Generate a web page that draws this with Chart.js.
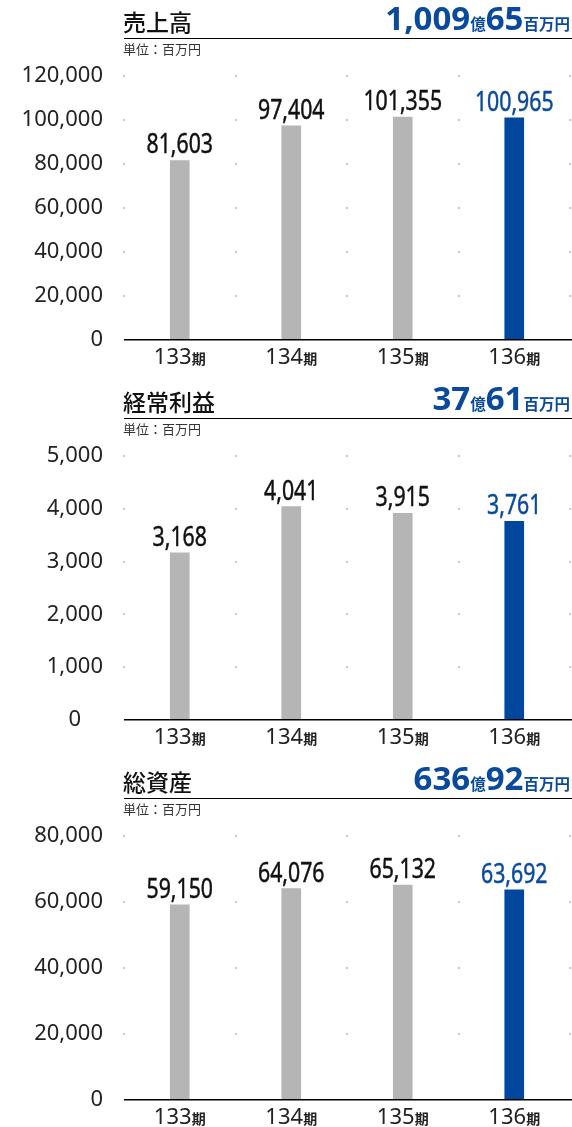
<!DOCTYPE html>
<html>
<head>
<meta charset="utf-8">
<script src="https://cdn.jsdelivr.net/npm/chart.js@4"></script>
<style>
  html, body { margin: 0; padding: 0; overflow: hidden; background: #fff; }
  body { width: 572px; font-family: "Noto Sans CJK JP", "Noto Sans", sans-serif; color: #111; }
  .block { position: relative; width: 572px; height: 380px; }
  .block canvas { position: absolute; left: 0; top: 0; }
  .title { position: absolute; left: 123px; top: 6px; font-size: 23px; font-weight: 500; line-height: 30px; z-index: 2; }
  .rule { position: absolute; left: 124px; right: 0; top: 38px; height: 1px; background: #000; z-index: 2; }
  .unit { position: absolute; left: 123px; top: 41px; font-size: 13px; line-height: 16px; color: #333; z-index: 2; }
  .total { position: absolute; right: 2px; top: 0px; color: #0a4a9c; font-weight: 700; line-height: 36px; white-space: nowrap; z-index: 2; }
  .total .n { font-family: "Noto Sans", sans-serif; font-size: 33px; }
  .total .u { font-size: 15.5px; }
</style>
</head>
<body>

<div class="block">
  <div class="title">売上高</div>
  <div class="total"><span class="n">1,009</span><span class="u">億</span><span class="n">65</span><span class="u">百万円</span></div>
  <div class="rule"></div>
  <div class="unit">単位：百万円</div>
  <canvas id="sales" width="572" height="380"></canvas>
</div>

<div class="block">
  <div class="title">経常利益</div>
  <div class="total"><span class="n">37</span><span class="u">億</span><span class="n">61</span><span class="u">百万円</span></div>
  <div class="rule"></div>
  <div class="unit">単位：百万円</div>
  <canvas id="profit" width="572" height="380"></canvas>
</div>

<div class="block">
  <div class="title">総資産</div>
  <div class="total"><span class="n">636</span><span class="u">億</span><span class="n">92</span><span class="u">百万円</span></div>
  <div class="rule"></div>
  <div class="unit">単位：百万円</div>
  <canvas id="assets" width="572" height="380"></canvas>
</div>

<script>
  // periods on the x axis
  const periods = ['133', '134', '135', '136'];

  // 売上高 (百万円)
  const salesValues = [81603, 97404, 101355, 100965];
  // 経常利益 (百万円)
  const profitValues = [3168, 4041, 3915, 3761];
  // 総資産 (百万円)
  const assetsValues = [59150, 64076, 65132, 63692];

  const GRAY = '#b5b5b5';
  const BLUE = '#00479d';
  const fmt = v => v.toLocaleString('en-US');

  // dots at grid intersections, axis line, value labels and "期" labels
  const decoPlugin = {
    id: 'deco',
    beforeDatasetsDraw(chart) {
      const {ctx, chartArea, scales: {y}} = chart;
      const step = chartArea.width / periods.length;
      ctx.save();
      ctx.fillStyle = '#c9c9c9';
      y.ticks.forEach((t, i) => {
        if (t.value === 0) return;
        const py = Math.round(y.getPixelForTick(i));
        for (let k = 0; k <= periods.length; k++) {
          const px = Math.round(chartArea.left + k * step);
          ctx.fillRect(px - 1, py - 1, 2, 2);
        }
      });
      ctx.restore();
    },
    afterDatasetsDraw(chart) {
      const {ctx, chartArea, scales: {x, y}} = chart;
      const data = chart.data.datasets[0].data;
      const last = data.length - 1;
      ctx.save();

      // axis line
      ctx.fillStyle = '#000';
      ctx.fillRect(chartArea.left, Math.round(chartArea.bottom) - 1, chart.width - chartArea.left, 1.5);

      // value labels (condensed)
      ctx.textAlign = 'center';
      ctx.textBaseline = 'alphabetic';
      ctx.font = '28px "Noto Sans"';
      ctx.lineWidth = 0.5;
      data.forEach((v, i) => {
        const px = x.getPixelForValue(i);
        const py = y.getPixelForValue(v) - 7;
        const c = i === last ? '#0a4a9c' : '#111';
        ctx.save();
        ctx.translate(px, py);
        ctx.scale(0.76, 1);
        ctx.fillStyle = c;
        ctx.strokeStyle = c;
        ctx.fillText(fmt(v), 0, 0);
        ctx.strokeText(fmt(v), 0, 0);
        ctx.restore();
      });

      // period labels
      const base = chartArea.bottom + 24;
      ctx.textAlign = 'left';
      ctx.fillStyle = '#222';
      const numFont = '22px "Noto Sans"';
      const kiFont = '700 14px "Noto Sans CJK JP"';
      periods.forEach((p, i) => {
        const px = x.getPixelForValue(i);
        ctx.font = numFont;
        const w1 = ctx.measureText(p).width;
        ctx.font = kiFont;
        const w2 = ctx.measureText('期').width;
        const sx = px - (w1 + w2) / 2;
        ctx.font = numFont;
        ctx.fillText(p, sx, base);
        ctx.font = kiFont;
        ctx.fillText('期', sx + w1, base);
      });
      ctx.restore();
    }
  };

  function makeChart(id, values, yMax, yStep, shiftZero) {
    const colors = values.map((v, i) => i === values.length - 1 ? BLUE : GRAY);
    return new Chart(document.getElementById(id), {
      type: 'bar',
      data: {
        labels: periods,
        datasets: [{
          data: values,
          backgroundColor: colors,
          barThickness: 19,
          borderWidth: 0
        }]
      },
      options: {
        responsive: false,
        animation: false,
        layout: { padding: { top: 76, bottom: 40, left: 0, right: 2 } },
        plugins: { legend: { display: false }, tooltip: { enabled: false } },
        scales: {
          x: {
            grid: { display: false, drawTicks: false },
            border: { display: false },
            ticks: { display: false }
          },
          y: {
            min: 0,
            max: yMax,
            grid: { display: false, drawTicks: false },
            border: { display: false },
            afterFit: s => { s.width = 124; },
            ticks: {
              stepSize: yStep,
              padding: 21,
              color: '#222',
              font: { family: '"Noto Sans"', size: 22 },
              callback: v => (v === 0 && shiftZero) ? '0\u2003' : fmt(v)
            }
          }
        }
      },
      plugins: [decoPlugin]
    });
  }

  makeChart('sales', salesValues, 120000, 20000, false);
  makeChart('profit', profitValues, 5000, 1000, true);
  makeChart('assets', assetsValues, 80000, 20000, false);
</script>
</body>
</html>
